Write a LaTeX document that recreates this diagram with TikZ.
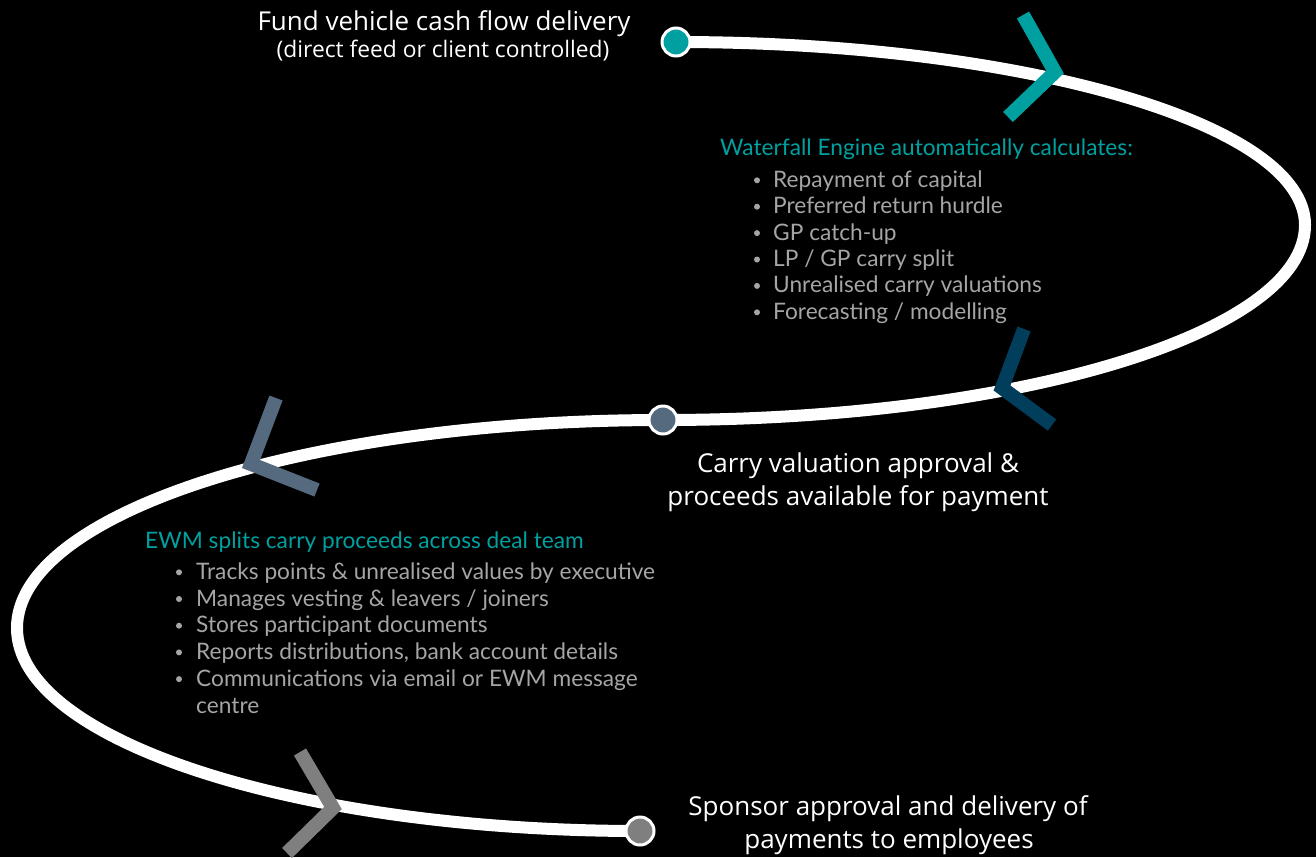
\documentclass[tikz,border=0pt]{standalone}
\usepackage{fontspec}
\setmainfont{Open Sans}
\newfontfamily\listfont{Lato}
\definecolor{teal1}{RGB}{0,160,160}
\definecolor{navy1}{RGB}{0,62,92}
\definecolor{slate1}{RGB}{85,106,126}
\definecolor{gray1}{RGB}{127,127,127}
\definecolor{listgray}{RGB}{165,165,165}
\begin{document}
\begin{tikzpicture}[x=1pt,y=-1pt,
  titletext/.style={text=white, font=\fontsize{26}{33}\selectfont, anchor=base, inner sep=0pt},
  subtext/.style={text=white, font=\fontsize{22.8}{27}\selectfont, anchor=base, inner sep=0pt},
  headtext/.style={text=teal1, font=\listfont\fontsize{22.7}{26}\selectfont, anchor=base west, inner sep=0pt},
  itemtext/.style={text=listgray, font=\listfont\fontsize{22.7}{26}\selectfont, anchor=base west, inner sep=0pt},
  bulletdot/.style={circle, fill=listgray, minimum size=6pt, inner sep=0pt},
  chev/.style={line width=14pt, line join=miter, line cap=butt},
  loopline/.style={draw=white, line width=12pt},
  dot/.style={circle, draw=white, line width=3pt, minimum size=28pt, inner sep=0pt}
]
\fill[black] (0,0) rectangle (1316,857);
\useasboundingbox (0,0) rectangle (1316,857);

\coordinate (p1) at (676,42);
\coordinate (p2) at (663,420);
\coordinate (p3) at (640,831);
\coordinate (R) at (1305,225);
\coordinate (L) at (17,628);

% loop
\draw[loopline] (p1) .. controls (1023,42) and (1305,124) .. (R)
  .. controls (1305,333) and (1018,420) .. (p2)
  .. controls (306,420) and (17,513) .. (L)
  .. controls (17,740) and (296,831) .. (p3);

% chevrons
\draw[chev, teal1] (1023,15) -- (1055,72) -- (1008,117);
\draw[chev, navy1] (1024,329) -- (1002,388) -- (1052,425);
\draw[chev, slate1] (276,398) -- (251,464) -- (317,490);
\draw[chev, gray1] (300,752) -- (333,808) -- (287,853);

% circles
\node[dot, fill=teal1] (c1) at (p1) {};
\node[dot, fill=slate1] (c2) at (p2) {};
\node[dot, fill=gray1] (c3) at (p3) {};

% titles
\node[titletext] (t1a) at (444,30) {Fund vehicle cash flow delivery};
\node[subtext] (t1b) at (443,57) {(direct feed or client controlled)};
\node[titletext] (t2a) at (858,472) {Carry valuation approval \&};
\node[titletext] (t2b) at (858,505) {proceeds available for payment};
\node[titletext] (t3a) at (888,815) {Sponsor approval and delivery of};
\node[titletext] (t3b) at (889,848) {payments to employees};

% waterfall list
\node[headtext] (wh) at (720,155) {Waterfall Engine automatically calculates:};
\foreach \t [count=\i] in {Repayment of capital, Preferred return hurdle, GP catch-up, LP / GP carry split, Unrealised carry valuations, Forecasting / modelling}{
  \node[bulletdot] (wb\i) at (757,{187.3+26.4*(\i-1)-7}) {};
  \node[itemtext] (wi\i) at (773,{187.3+26.4*(\i-1)}) {\t};
}

% EWM list
\node[headtext] (eh) at (145,548.3) {EWM splits carry proceeds across deal team};
\foreach \t [count=\i] in {Tracks points \& unrealised values by executive, Manages vesting \& leavers / joiners, Stores participant documents, {Reports distributions, bank account details}, Communications via email or EWM message}{
  \node[bulletdot] (eb\i) at (179,{579.3+26.7*(\i-1)-7}) {};
  \node[itemtext] (ei\i) at (196,{579.3+26.7*(\i-1)}) {\t};
}
\node[itemtext] (ei6) at (196,713.3) {centre};
\end{tikzpicture}
\end{document}
